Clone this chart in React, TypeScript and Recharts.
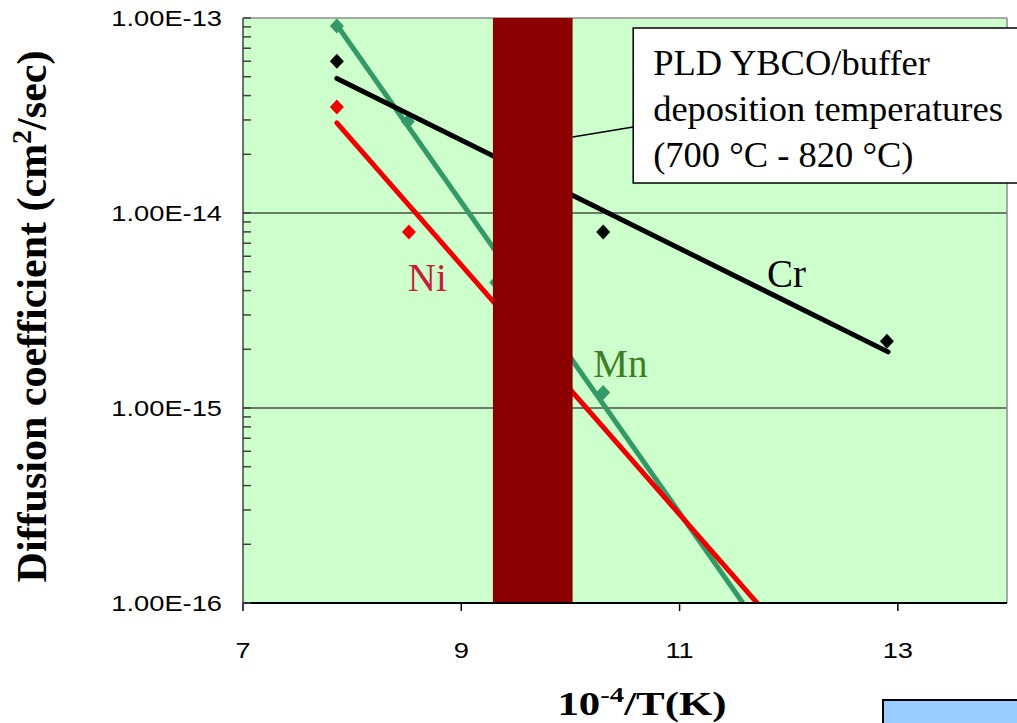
import React from 'react';
import {
  ComposedChart,
  XAxis,
  YAxis,
  CartesianGrid,
  Line,
  Scatter,
  ReferenceArea,
  ReferenceLine,
  ReferenceDot,
} from 'recharts';

const SERIF = "'Liberation Serif', 'Times New Roman', serif";
const SANS = "'Liberation Sans', Arial, sans-serif";

// Measured diffusion coefficients (cm^2/s) against 10^4 / T(K)
const crPoints = [
  { x: 7.86, y: 6.0e-14 },
  { x: 10.3, y: 8.0e-15 },
  { x: 12.9, y: 2.2e-15 },
];
const niPoints = [
  { x: 7.86, y: 3.5e-14 },
  { x: 8.52, y: 8.0e-15 },
];
const mnPoints = [
  { x: 7.86, y: 9.1e-14 },
  { x: 8.51, y: 2.95e-14 },
  { x: 9.32, y: 4.4e-15 },
  { x: 10.3, y: 1.2e-15 },
];

// Arrhenius fit lines
const crFit = [
  { x: 7.86, y: 4.9e-14 },
  { x: 12.91, y: 1.94e-15 },
];
const niFit = [
  { x: 7.86, y: 2.9e-14 },
  { x: 11.71, y: 1.0e-16 },
];
const mnFit = [
  { x: 7.86, y: 9.2e-14 },
  { x: 11.58, y: 1.0e-16 },
];

// Axis ticks
const xTicks = [7, 9, 11, 13];
const yMajorTicks = [1e-16, 1e-15, 1e-14, 1e-13];
const yMinorTicks = [
  2e-16, 3e-16, 4e-16, 5e-16, 6e-16, 7e-16, 8e-16, 9e-16,
  2e-15, 3e-15, 4e-15, 5e-15, 6e-15, 7e-15, 8e-15, 9e-15,
  2e-14, 3e-14, 4e-14, 5e-14, 6e-14, 7e-14, 8e-14, 9e-14,
];
const yGridLines = [1e-15, 1e-14];

// PLD YBCO/buffer deposition window, in 10^4 / T(K)
const depositionBand = [9.29, 10.02];
const calloutLines = ['PLD YBCO/buffer', 'deposition temperatures', '(700 °C - 820 °C)'];

const X_DOMAIN = [7, 14];
const Y_DOMAIN = [1e-16, 1e-13];

const AXIS_GREY = '#404040';

const diamond = (color: string) => (p: any) => {
  const { cx, cy } = p;
  if (cx == null || cy == null) return <g />;
  return (
    <path
      d={`M${cx},${cy - 7.5} L${cx + 7},${cy} L${cx},${cy + 7.5} L${cx - 7},${cy} Z`}
      fill={color}
    />
  );
};

const fmtSci = (v: number) => v.toExponential(2).toUpperCase();

function YTick(props: any) {
  const { x, y, payload } = props;
  const axisX = x + 8;
  const major = yMajorTicks.includes(payload.value);
  return (
    <g>
      <line x1={axisX} x2={axisX + 8} y1={y} y2={y} stroke={AXIS_GREY} strokeWidth={1.5} />
      {major && (
        <text
          transform={`translate(${axisX - 21},${y + 8}) scale(1.24,1)`}
          textAnchor="end"
          fontFamily={SANS}
          fontSize={22}
          fill="#000"
        >
          {fmtSci(payload.value)}
        </text>
      )}
    </g>
  );
}

function XTick(props: any) {
  const { x, y, payload } = props;
  return (
    <text
      transform={`translate(${x},${y + 47}) scale(1.24,1)`}
      textAnchor="middle"
      fontFamily={SANS}
      fontSize={22}
      fill="#000"
    >
      {payload.value}
    </text>
  );
}

const xTitle = (p: any) => {
  const vb = p.viewBox || {};
  const cx = vb.x + vb.width / 2 + 17;
  const by = vb.y + 112;
  return (
    <text
      transform={`translate(${cx},${by}) scale(1.3,1)`}
      textAnchor="middle"
      fontFamily={SERIF}
      fontWeight="bold"
      fontSize={33}
      fill="#000"
    >
      <tspan>10</tspan>
      <tspan dy={-13} fontSize={22}>-4</tspan>
      <tspan dy={13}>/T(K)</tspan>
    </text>
  );
};

const yTitle = (p: any) => {
  const vb = p.viewBox || {};
  const cy = vb.y + vb.height / 2 + 6;
  return (
    <text
      transform={`translate(${vb.x + 46},${cy}) rotate(-90)`}
      textAnchor="middle"
      fontFamily={SERIF}
      fontWeight="bold"
      fontSize={42}
      fill="#000"
    >
      <tspan>Diffusion coefficient (cm</tspan>
      <tspan dy={-15} fontSize={28}>2</tspan>
      <tspan dy={15}>/sec)</tspan>
    </text>
  );
};

const calloutText = (p: any) => {
  const vb = p.viewBox || {};
  return (
    <text fontFamily={SERIF} fontSize={36.5} fill="#000">
      {calloutLines.map((line, i) => (
        <tspan key={line} x={vb.x + 20} y={vb.y + 47 + i * 46}>
          {line}
        </tspan>
      ))}
    </text>
  );
};

const seriesLabel = (text: string, color: string) => (p: any) => (
  <text x={p.cx} y={p.cy} fontFamily={SERIF} fontSize={39} fill={color}>
    {text}
  </text>
);

export default function App() {
  return (
    <div
      style={{
        position: 'absolute',
        left: 0,
        top: 0,
        width: 1017,
        height: 723,
        overflow: 'hidden',
        background: '#fff',
      }}
    >
      <ComposedChart
        width={1017}
        height={723}
        margin={{ top: 18, right: 10, left: 0, bottom: 60 }}
      >
        <CartesianGrid horizontal={false} vertical={false} fill="#CCFFCC" fillOpacity={1} />
        <XAxis
          type="number"
          dataKey="x"
          domain={X_DOMAIN}
          ticks={xTicks}
          interval={0}
          allowDataOverflow
          height={60}
          axisLine={{ stroke: '#000', strokeWidth: 2 }}
          tickLine={{ stroke: '#000', strokeWidth: 1.5 }}
          tickSize={8}
          tickMargin={0}
          tick={(p: any) => <XTick {...p} />}
          label={xTitle}
        />
        <YAxis
          type="number"
          dataKey="y"
          scale="log"
          domain={Y_DOMAIN}
          ticks={[...yMajorTicks, ...yMinorTicks]}
          interval={0}
          allowDataOverflow
          width={243}
          axisLine={{ stroke: AXIS_GREY, strokeWidth: 1.5 }}
          tickLine={false}
          tickSize={8}
          tickMargin={0}
          tick={(p: any) => <YTick {...p} />}
          label={yTitle}
        />

        {yGridLines.map((v) => (
          <ReferenceLine key={v} y={v} stroke="#000" strokeWidth={1.2} zIndex={-50} />
        ))}
        <ReferenceLine y={1e-13} stroke="#8c8c8c" strokeWidth={1.5} zIndex={-50} />
        <ReferenceLine x={14} stroke="#8c8c8c" strokeWidth={1.5} zIndex={-50} />

        <Scatter data={crPoints} fill="#000" shape={diamond('#000')} isAnimationActive={false} zIndex={350} />
        <Scatter data={niPoints} fill="#EE0000" shape={diamond('#EE0000')} isAnimationActive={false} zIndex={350} />
        <Scatter data={mnPoints} fill="#339966" shape={diamond('#339966')} isAnimationActive={false} zIndex={350} />

        <Line data={mnFit} dataKey="y" stroke="#339966" strokeWidth={5} dot={false} activeDot={false} strokeLinecap="round" isAnimationActive={false} />
        <Line data={niFit} dataKey="y" stroke="#EE0000" strokeWidth={5} dot={false} activeDot={false} strokeLinecap="round" isAnimationActive={false} />
        <Line data={crFit} dataKey="y" stroke="#000" strokeWidth={5} dot={false} activeDot={false} strokeLinecap="round" isAnimationActive={false} />

        <ReferenceArea
          x1={depositionBand[0]}
          x2={depositionBand[1]}
          y1={Y_DOMAIN[0]}
          y2={Y_DOMAIN[1]}
          fill="#8B0000"
          fillOpacity={1}
          stroke="none"
          zIndex={450}
        />

        <ReferenceLine
          segment={[
            { x: 10.02, y: 2.45e-14 },
            { x: 10.575, y: 2.76e-14 },
          ]}
          stroke="#000"
          strokeWidth={1.5}
          ifOverflow="visible"
          zIndex={1500}
        />
        <ReferenceArea
          x1={10.575}
          x2={14.4}
          y1={1.425e-14}
          y2={8.89e-14}
          fill="#fff"
          fillOpacity={1}
          stroke="#000"
          strokeWidth={1.5}
          ifOverflow="visible"
          zIndex={1500}
          label={calloutText}
        />

        <ReferenceDot x={11.8} y={4.17e-15} r={0} shape={seriesLabel('Cr', '#000')} zIndex={1600} />
        <ReferenceDot x={8.51} y={3.98e-15} r={0} shape={seriesLabel('Ni', '#C41E3A')} zIndex={1600} />
        <ReferenceDot x={10.21} y={1.44e-15} r={0} shape={seriesLabel('Mn', '#3C7D22')} zIndex={1600} />
      </ComposedChart>
      <div
        style={{
          position: 'absolute',
          left: 882,
          top: 699,
          width: 200,
          height: 60,
          background: '#99CCFF',
          border: '2px solid #000',
        }}
      />
    </div>
  );
}
